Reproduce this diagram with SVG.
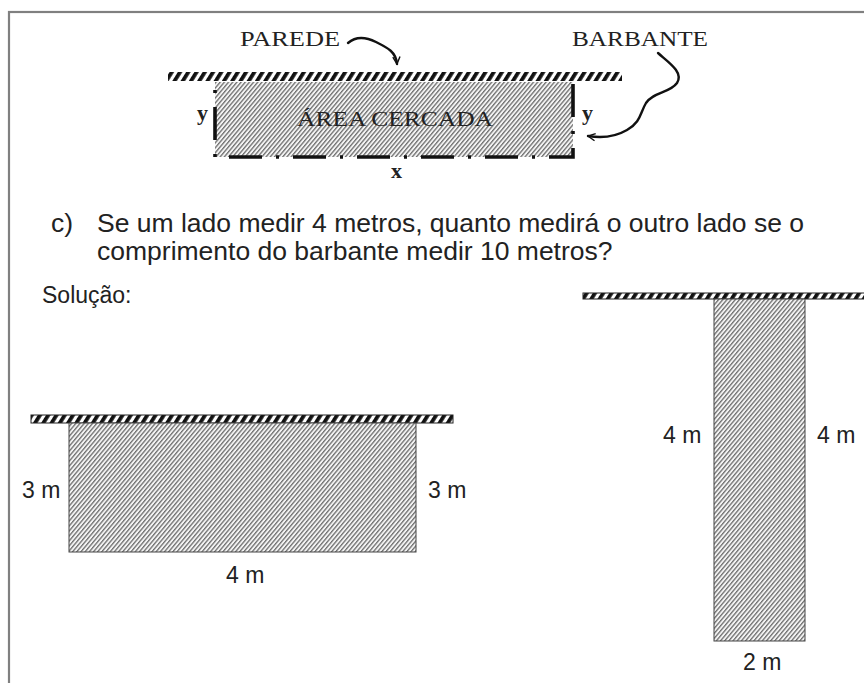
<svg xmlns="http://www.w3.org/2000/svg" width="864" height="683" viewBox="0 0 864 683">
  <defs>
    <pattern id="wall" patternUnits="userSpaceOnUse" width="7" height="20" patternTransform="rotate(32)">
      <rect x="0" y="0" width="3.8" height="20" fill="#111"/>
    </pattern>
    <pattern id="hatch" patternUnits="userSpaceOnUse" width="3.2" height="10" patternTransform="rotate(40)">
      <rect x="0" y="0" width="3.2" height="10" fill="#f4f4f4"/>
      <rect x="0" y="0" width="1.3" height="10" fill="#6e6e6e"/>
    </pattern>
    <marker id="arrowV" viewBox="0 0 10 10" refX="9" refY="5" markerWidth="9" markerHeight="9" orient="auto" markerUnits="userSpaceOnUse">
      <path d="M1,1 L9,5 L1,9" fill="none" stroke="#111" stroke-width="1.6"/>
    </marker>
    <style>
      .serif { font-family: "Liberation Serif", "Times New Roman", serif; fill: #222; }
      .sans { font-family: "Liberation Sans", Arial, sans-serif; fill: #222; }
      .lbl { font-size: 23px; }
      .q { font-size: 26.5px; }
      .wall { fill: url(#wall); }
      .wallB { fill: url(#wall); stroke: #222; stroke-width: 1; }
      .area { fill: url(#hatch); }
      .areaB { fill: url(#hatch); stroke: #444; stroke-width: 1; }
      .curve { fill: none; stroke: #111; stroke-width: 2.4; stroke-linecap: round; }
    </style>
  </defs>

  <rect x="0" y="0" width="864" height="683" fill="#fff"/>
  <rect id="frame" x="9" y="12" width="900" height="720" fill="none" stroke="#808080" stroke-width="2.2"/>

  <!-- Top diagram -->
  <g id="top-diagram">
    <rect id="wall-top" class="wall" x="168" y="72" width="454" height="9"/>
    <rect id="area-top" class="area" x="215" y="82" width="358" height="75"/>
    <path id="barbante-line" d="M215,82 L215,157 L573,157 L573,82" fill="none" stroke="#111" stroke-width="3.6" stroke-dasharray="3 14 33 14" stroke-dashoffset="56"/>
    <text class="serif" x="297" y="126" font-size="21" textLength="196" lengthAdjust="spacingAndGlyphs" fill="#444">ÁREA CERCADA</text>
    <text class="serif" x="197" y="120" font-size="22" font-weight="bold">y</text>
    <text class="serif" x="582" y="120" font-size="22" font-weight="bold">y</text>
    <text class="serif" x="391" y="178" font-size="22" font-weight="bold">x</text>
  </g>

  <g id="label-parede">
    <text class="serif" x="240" y="46" font-size="21" textLength="100" lengthAdjust="spacingAndGlyphs">PAREDE</text>
  </g>
  <g id="label-barbante">
    <text class="serif" x="572" y="46" font-size="21" textLength="136" lengthAdjust="spacingAndGlyphs">BARBANTE</text>
  </g>

  <g id="connectors">
    <path class="curve" d="M348,43 C356,36 366,37 376,42 C388,48 396,52 397,64" marker-end="url(#arrowV)"/>
    <path class="curve" d="M658,53 C668,62 684,72 677,83 C670,93 653,92 646,103 C640,113 641,122 627,130 C615,137 600,138 588,136" marker-end="url(#arrowV)"/>
  </g>

  <!-- Question -->
  <g id="question">
    <text class="sans q" x="51" y="232">c)</text>
    <text class="sans q" x="97" y="232">Se um lado medir 4 metros, quanto medirá o outro lado se o</text>
    <text class="sans q" x="97" y="260">comprimento do barbante medir 10 metros?</text>
  </g>
  <g id="solucao">
    <text class="sans" x="42" y="303" font-size="23">Solução:</text>
  </g>

  <!-- Lower left rectangle -->
  <g id="rect-4x3">
    <rect class="wallB" x="31" y="415" width="422" height="8"/>
    <rect class="areaB" x="69" y="423" width="347" height="129"/>
    <text class="sans lbl" x="22" y="498">3 m</text>
    <text class="sans lbl" x="428" y="498">3 m</text>
    <text class="sans lbl" x="226" y="583">4 m</text>
  </g>

  <!-- Right rectangle -->
  <g id="rect-2x4">
    <rect class="wallB" x="583" y="293" width="290" height="6"/>
    <rect class="areaB" x="714" y="299" width="91" height="342"/>
    <text class="sans lbl" x="663" y="443">4 m</text>
    <text class="sans lbl" x="817" y="443">4 m</text>
    <text class="sans lbl" x="743" y="670">2 m</text>
  </g>
</svg>
